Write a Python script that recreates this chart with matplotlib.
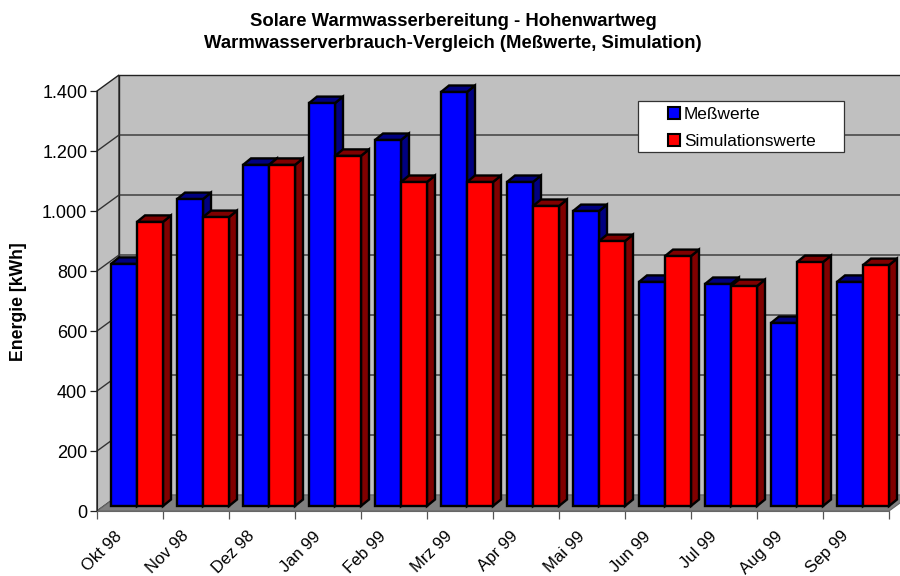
import matplotlib
matplotlib.use('Agg')
import matplotlib.pyplot as plt
from matplotlib.patches import Polygon, Rectangle

plt.rcParams['font.family'] = ['Liberation Sans', 'DejaVu Sans']

months = ['Okt 98', 'Nov 98', 'Dez 98', 'Jan 99', 'Feb 99', 'Mrz 99',
          'Apr 99', 'Mai 99', 'Jun 99', 'Jul 99', 'Aug 99', 'Sep 99']
messwerte = [807, 1023, 1137, 1343, 1220, 1380, 1080, 983, 747, 740, 610, 747]
simulation = [947, 963, 1137, 1167, 1080, 1080, 1000, 883, 833, 733, 813, 803]
yticks = [0, 200, 400, 600, 800, 1000, 1200, 1400]
yticklabels = ['0', '200', '400', '600', '800', '1.000', '1.200', '1.400']

# pixel scales of the front plane
px_x = 1 / 66
px_y = 1 / 0.3
wall_dx, wall_dy = 22 * px_x, 16 * px_y
base_dx, base_dy = 14 * px_x, 5 * px_y
depth_dx, depth_dy = 8 * px_x, 6.5 * px_y
bar_w = 26 * px_x
edge = 1.7


def box(ax, x, h, front, side):
    y0 = base_dy
    y1 = base_dy + h
    ax.add_patch(Polygon([(x + bar_w, y0), (x + bar_w + depth_dx, y0 + depth_dy),
                          (x + bar_w + depth_dx, y1 + depth_dy), (x + bar_w, y1)],
                         fc=side, ec='black', lw=edge, clip_on=False, zorder=4))
    ax.add_patch(Polygon([(x, y1), (x + depth_dx, y1 + depth_dy),
                          (x + bar_w + depth_dx, y1 + depth_dy), (x + bar_w, y1)],
                         fc=side, ec='black', lw=edge, clip_on=False, zorder=4))
    ax.add_patch(Rectangle((x, y0), bar_w, h, fc=front, ec='black', lw=edge,
                           clip_on=False, zorder=4))


fig = plt.figure(figsize=(9, 5.76), dpi=100)
ax = fig.add_axes([97 / 900, 1 - 511 / 576, 792 / 900, 420 / 576])
ax.set_xlim(0, 12)
ax.set_ylim(0, 1400)
ax.patch.set_visible(False)

# walls and floor
right = 12 + wall_dx
ax.add_patch(Polygon([(wall_dx, wall_dy), (right, wall_dy), (right, 1400 + wall_dy), (wall_dx, 1400 + wall_dy)],
                     fc='#c0c0c0', ec='#222222', lw=1, clip_on=False, zorder=1))
ax.add_patch(Polygon([(0, 0), (wall_dx, wall_dy), (wall_dx, 1400 + wall_dy), (0, 1400)],
                     fc='#c0c0c0', ec='#222222', lw=1, clip_on=False, zorder=1))
ax.add_patch(Polygon([(0, 0), (12, 0), (right, wall_dy), (wall_dx, wall_dy)],
                     fc='#808080', ec='#666666', lw=0.8, clip_on=False, zorder=2))
for t in yticks[1:-1]:
    ax.plot([0, wall_dx, right], [t, t + wall_dy, t + wall_dy], color='#333333', lw=1,
            clip_on=False, zorder=2)

for i in range(len(months)):
    box(ax, i + base_dx, messwerte[i], '#0000ff', '#000080')
    box(ax, i + base_dx + bar_w, simulation[i], '#ff0000', '#800000')

for s in ['top', 'right']:
    ax.spines[s].set_visible(False)
ax.spines['left'].set_color('#222222')
ax.spines['bottom'].set_color('#666666')
ax.spines['left'].set_zorder(3)
ax.spines['bottom'].set_zorder(3)

ax.set_yticks(yticks)
ax.set_yticklabels(yticklabels, fontsize=13)
ax.set_xticks(range(13))
ax.set_xticklabels([''] * 13)
ax.tick_params(axis='y', length=5, width=0.9, color='#222222', pad=2)
ax.tick_params(axis='x', length=6, width=0.9, color='#555555')

for i, m in enumerate(months):
    ax.annotate(m, (i + 0.5, 0), xytext=(-11, -12.6), textcoords='offset points', rotation=45,
                ha='right', va='top', rotation_mode='anchor', fontsize=12, annotation_clip=False)

fig.text(19 / 900, 1 - 302 / 576, 'Energie [kWh]', rotation=90, ha='center', va='center',
         fontsize=12.7, fontweight='bold')
fig.text(453 / 900, 1 - 32.5 / 576, 'Solare Warmwasserbereitung - Hohenwartweg\nWarmwasserverbrauch-Vergleich (Meßwerte, Simulation)',
         ha='center', va='center', fontsize=13.3, fontweight='bold', linespacing=1.38)

# legend box
fig.add_artist(Rectangle((638 / 900, 1 - 152 / 576), 206 / 900, 51 / 576, transform=fig.transFigure,
                         fc='white', ec='#333333', lw=0.9, zorder=5))
handles = [Rectangle((0, 0), 1, 1, fc='#0000ff', ec='black', lw=1.5),
           Rectangle((0, 0), 1, 1, fc='#ff0000', ec='black', lw=1.5)]
leg = fig.legend(handles, ['Meßwerte', 'Simulationswerte'], loc='center',
                 bbox_to_anchor=(742 / 900, 1 - 128 / 576), frameon=False, fontsize=12.4,
                 handlelength=0.65, handleheight=0.65, handletextpad=0.25, labelspacing=0.7)
leg.set_zorder(6)

fig.savefig('out.png', dpi=100)
